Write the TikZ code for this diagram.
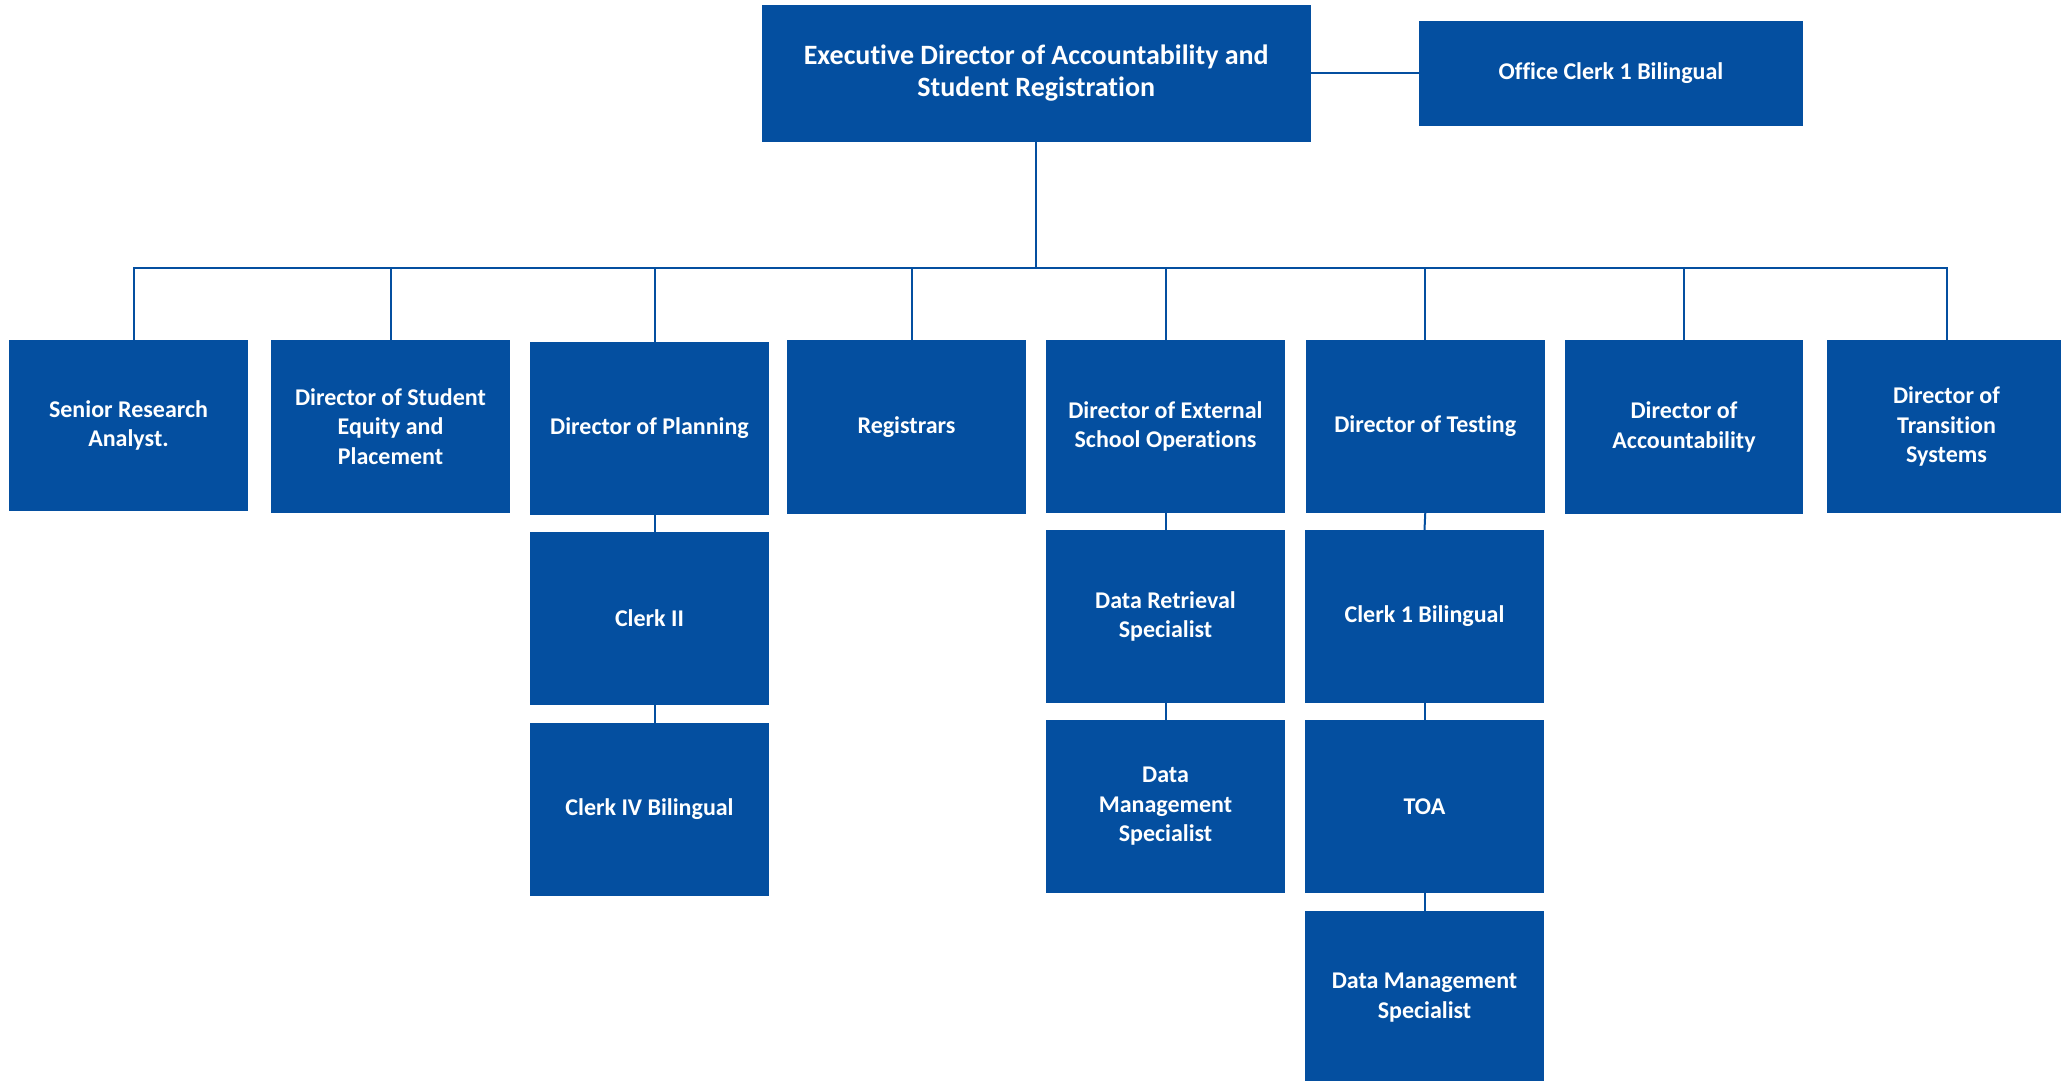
\documentclass[tikz,border=0pt]{standalone}
\usepackage{fontspec}
\setmainfont{Carlito}[Ligatures=NoCommon]
\definecolor{boxblue}{HTML}{044FA0}
\begin{document}
\begin{tikzpicture}[x=1pt,y=-1pt,
  box/.style={fill=boxblue, draw=none, text=white, inner sep=0pt, align=center,
    font=\bfseries\fontsize{24}{29.5}\selectfont},
  bigbox/.style={box, font=\bfseries\fontsize{28}{32}\selectfont},
  link/.style={draw=boxblue, line width=2pt}]
\useasboundingbox (0,0) rectangle (2061,1081);
\clip (0,0) rectangle (2061,1081);
% top
\node[bigbox, minimum width=548.5, minimum height=137.5] (exec) at (1036.25,73.5) {Executive Director of Accountability and\\Student Registration};
\node[box, minimum width=384, minimum height=105] (office) at (1611,73.5) {Office Clerk 1 Bilingual};
% second row
\node[box, minimum width=239, minimum height=171] (sr) at (128.5,425.5) {Senior Research\\Analyst.};
\node[box, minimum width=239, minimum height=173] (ds) at (390.5,426.5) {Director of Student\\Equity and\\Placement};
\node[box, minimum width=239, minimum height=173] (dp) at (649.5,428.5) {Director of Planning};
\node[box, minimum width=239, minimum height=174] (reg) at (906.5,427) {Registrars};
\node[box, minimum width=239, minimum height=173] (ext) at (1165.5,426.5) {Director of External\\School Operations};
\node[box, minimum width=238.5, minimum height=173] (test) at (1425.25,426.5) {Director of Testing};
\node[box, minimum width=238, minimum height=174] (acc) at (1684,427) {Director of\\Accountability};
\node[box, minimum width=239, minimum height=173] (trans) at (1946.5,426.5) {Director of\\Transition\\Systems};
% lower levels
\node[box, minimum width=239, minimum height=172.5] (c2) at (649.5,618.25) {Clerk II};
\node[box, minimum width=239, minimum height=173] (c4) at (649.5,809.5) {Clerk IV Bilingual};
\node[box, minimum width=239, minimum height=173] (dr) at (1165.5,616.5) {Data Retrieval\\Specialist};
\node[box, minimum width=239, minimum height=173] (dm) at (1165.5,806.5) {Data\\Management\\Specialist};
\node[box, minimum width=239, minimum height=173] (c1b) at (1424.5,616.5) {Clerk 1 Bilingual};
\node[box, minimum width=239, minimum height=173] (toa) at (1424.5,806.5) {TOA};
\node[box, minimum width=239, minimum height=173] (dm2) at (1424.5,997.5) {Data Management\\Specialist};
% connectors
\coordinate (bus) at (1036.25,268);
\draw[link] (exec.east) -- (office.west |- exec.east);
\draw[link] (exec.south) -- (bus);
\draw[link] ([xshift=5.5pt]sr.north) |- (bus);
\draw[link] (ds.north) |- (bus);
\draw[link] ([xshift=5.5pt]dp.north) |- (bus);
\draw[link] ([xshift=5.5pt]reg.north) |- (bus);
\draw[link] (ext.north) |- (bus);
\draw[link] (test.north) |- (bus);
\draw[link] (acc.north) |- (bus);
\draw[link] (trans.north) |- (bus);
\draw[link] ([xshift=5.5pt]dp.south) -- ([xshift=5.5pt]c2.north);
\draw[link] ([xshift=5.5pt]c2.south) -- ([xshift=5.5pt]c4.north);
\draw[link] (ext.south) -- (dr.north);
\draw[link] (dr.south) -- (dm.north);
\draw[link] (test.south) -- (c1b.north);
\draw[link] (c1b.south) -- (toa.north);
\draw[link] (toa.south) -- (dm2.north);
\end{tikzpicture}
\end{document}
